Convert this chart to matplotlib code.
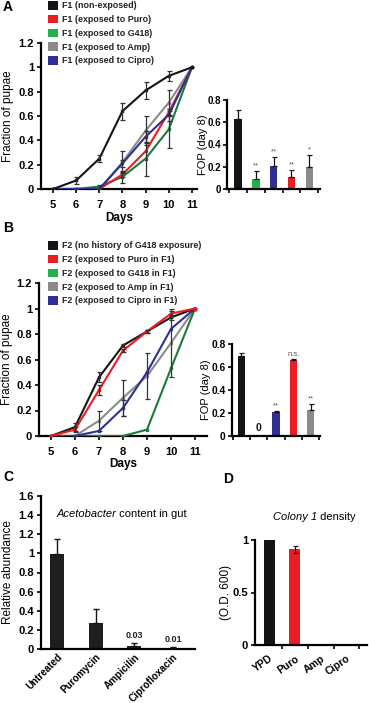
import matplotlib
matplotlib.use("Agg")
import matplotlib.pyplot as plt
import numpy as np
from matplotlib.patches import Patch

plt.rcParams['font.family'] = ['Liberation Sans', 'DejaVu Sans']
plt.rcParams['axes.linewidth'] = 1.6

# ---------------- data ----------------
days = [5, 6, 7, 8, 9, 10, 11]

A_labels = ["F1 (non-exposed)", "F1 (exposed to Puro)", "F1 (exposed to G418)",
            "F1 (exposed to Amp)", "F1 (exposed to Cipro)"]
A_black = [0, 0.07, 0.25, 0.64, 0.81, 0.93, 1.0]
A_black_err = [0, 0.03, 0.03, 0.07, 0.07, 0.04, 0]
A_red = [0, 0, 0, 0.12, 0.31, 0.63, 1.0]
A_red_err = [0, 0, 0, 0.02, 0, 0.03, 0]
A_green = [0, 0, 0.02, 0.10, 0.25, 0.49, 1.0]
A_green_err = [0, 0, 0.01, 0.05, 0.14, 0.15, 0]
A_gray = [0, 0, 0, 0.22, 0.48, 0.71, 1.0]
A_gray_err = [0, 0, 0, 0.09, 0.12, 0.10, 0]
A_blue = [0, 0, 0, 0.21, 0.43, 0.61, 1.0]
A_blue_err = [0, 0, 0, 0.03, 0.05, 0.05, 0]

A_fop = [0.63, 0.09, 0.21, 0.11, 0.20]
A_fop_err = [0.08, 0.07, 0.08, 0.06, 0.11]
A_fop_marks = ["", "**", "**", "**", "*"]

B_labels = ["F2 (no history of G418 exposure)", "F2 (exposed to Puro in F1)",
            "F2 (exposed to G418 in F1)", "F2 (exposed to Amp in F1)",
            "F2 (exposed to Cipro in F1)"]
B_black = [0, 0.07, 0.46, 0.71, 0.82, 0.93, 1.0]
B_black_err = [0, 0.03, 0.04, 0.01, 0.01, 0.02, 0]
B_red = [0, 0.05, 0.36, 0.67, 0.82, 0.96, 1.0]
B_red_err = [0, 0.02, 0.04, 0.01, 0.01, 0.02, 0]
B_green = [0, 0, 0, 0, 0.05, 0.53, 1.0]
B_green_err = [0, 0, 0, 0, 0, 0, 0]
B_gray = [0, 0, 0.12, 0.30, 0.47, 0.73, 1.0]
B_gray_err = [0, 0, 0.08, 0.14, 0.18, 0.27, 0]
B_blue = [0, 0, 0.04, 0.22, 0.50, 0.84, 1.0]
B_blue_err = [0, 0, 0, 0.06, 0, 0, 0]

B_fop = [0.70, 0.0, 0.21, 0.66, 0.23]
B_fop_err = [0.02, 0.0, 0.01, 0.01, 0.05]
B_fop_marks = ["", "0", "**", "n.s.", "**"]

C_cats = ["Untreated", "Puromycin", "Ampicilin", "Ciprofloxacin"]
C_vals = [0.99, 0.27, 0.03, 0.01]
C_err = [0.16, 0.15, 0.03, 0.01]
C_notes = ["", "", "0.03", "0.01"]

D_cats = ["YPD", "Puro", "Amp", "Cipro"]
D_vals = [1.0, 0.91, 0.0, 0.0]
D_err = [0.003, 0.03, 0.0, 0.0]

# ---------------- style ----------------
BLACK = '#141414'
RED = '#ec1c24'
GREEN = '#23b14d'
GREEN_LINE = '#1c7a38'
GRAY = '#8b8b8b'
BLUE = '#2e3192'
FOP_COLORS = [BLACK, GREEN, BLUE, RED, GRAY]
LEG_COLORS = [BLACK, RED, GREEN, GRAY, BLUE]

W, H = 369, 703
fig = plt.figure(figsize=(W / 100, H / 100), dpi=100)


def axp(l, t, r, b):
    return fig.add_axes([l / W, 1 - b / H, (r - l) / W, (b - t) / H])


def ylab_at(ax, text, px, l, r, size=8.5, weight='normal'):
    # px: right edge of the rotated label, in figure pixels
    ax.set_ylabel(text, fontsize=size, fontweight=weight)
    ax.yaxis.set_label_coords((px - l) / (r - l), 0.5)


def style(ax, size=8):
    for s in ['top', 'right']:
        ax.spines[s].set_visible(False)
    ax.tick_params(direction='out', length=3, width=1.2, pad=2,
                   labelsize=size)
    for lab in ax.get_xticklabels() + ax.get_yticklabels():
        lab.set_fontweight('bold')


def numfmt(v):
    return "0" if v == 0 else ("1" if v == 1 else f"{v:.1f}")


def line_panel(ax, series, xl, xr):
    for vals, errs, col in series:
        ax.plot(days, vals, color=col, lw=1.5, marker='s', ms=2,
                mfc=col, mec=col, zorder=3)
        idx = [i for i, e in enumerate(errs) if e > 0]
        if idx:
            ax.errorbar([days[i] for i in idx], [vals[i] for i in idx],
                        yerr=[errs[i] for i in idx], fmt='none',
                        ecolor='#333333', elinewidth=0.9, capsize=1.8,
                        capthick=0.9, zorder=4)
    ax.set_xlim(xl, xr)
    ax.set_ylim(0, 1.2)
    ax.set_xticks(days)
    yt = [0, 0.2, 0.4, 0.6, 0.8, 1.0, 1.2]
    ax.set_yticks(yt)
    ax.set_yticklabels([numfmt(v) for v in yt])
    ax.set_xticklabels([str(d) for d in days])
    style(ax)
    ax.tick_params(axis='x', labelsize=8, pad=5)
    ax.set_xlabel("Days", fontsize=8.5, fontweight='bold', labelpad=1)


def fop_panel(ax, vals, errs, marks, tsize):
    x = np.arange(len(vals))
    ax.bar(x, vals, width=0.42, color=FOP_COLORS, zorder=2)
    lo = [0] * len(vals)
    ax.errorbar(x, vals, yerr=[lo, errs], fmt='none', ecolor=BLACK,
                elinewidth=0.9, capsize=1.8, capthick=0.9, zorder=3)
    for xi, v, e, m in zip(x, vals, errs, marks):
        if m == "0":
            ax.text(xi, 0.03, m, ha='center', va='bottom', fontsize=7.5,
                    fontweight='bold', color=BLACK)
        elif m:
            ax.text(xi, v + e + 0.012, m, ha='center', va='bottom',
                    fontsize=5.5, color='#555555')
    ax.set_xlim(-0.62, 4.6)
    ax.set_ylim(0, 0.8)
    ax.set_xticks(np.arange(-0.5, 5, 1.0))
    ax.set_xticklabels([])
    yt = [0, 0.2, 0.4, 0.6, 0.8]
    ax.set_yticks(yt)
    ax.set_yticklabels([numfmt(v) for v in yt])
    style(ax, tsize)
    ax.tick_params(axis='y', pad=1.5)


LEG_KW = dict(loc='upper left', frameon=False,
              prop={'size': 6.4, 'weight': 'bold'}, handlelength=1.12,
              handleheight=1.12, handletextpad=0.45, labelspacing=0.5,
              borderpad=0, borderaxespad=0, labelcolor='#222222')

# ---------------- Panel A ----------------
axA = axp(41, 43, 197, 189)
line_panel(axA, [(A_gray, A_gray_err, GRAY), (A_green, A_green_err, GREEN_LINE),
                 (A_red, A_red_err, RED), (A_blue, A_blue_err, BLUE),
                 (A_black, A_black_err, BLACK)], 4.48, 11.22)
ylab_at(axA, "Fraction of pupae", 14, 41, 197)
handlesA = [Patch(facecolor=c, edgecolor='none') for c in LEG_COLORS]
fig.legend(handlesA, A_labels, bbox_to_anchor=(48 / W, 1 - 1 / H), **LEG_KW)
axAb = axp(227, 100, 320, 189)
fop_panel(axAb, A_fop, A_fop_err, A_fop_marks, 7)
ylab_at(axAb, "FOP (day 8)", 208, 227, 320, size=8)

# ---------------- Panel B ----------------
axB = axp(39, 283, 207, 436)
line_panel(axB, [(B_gray, B_gray_err, GRAY), (B_green, B_green_err, GREEN_LINE),
                 (B_blue, B_blue_err, BLUE), (B_black, B_black_err, BLACK),
                 (B_red, B_red_err, RED)], 4.5, 11.5)
ylab_at(axB, "Fraction of pupae", 13, 39, 207)
handlesB = [Patch(facecolor=c, edgecolor='none') for c in LEG_COLORS]
fig.legend(handlesB, B_labels, bbox_to_anchor=(48 / W, 1 - 241 / H), **LEG_KW)
axBb = axp(232, 344, 320, 436)
fop_panel(axBb, B_fop, B_fop_err, B_fop_marks, 7.4)
axBb.set_xlim(-0.55, 4.55)
ylab_at(axBb, "FOP (day 8)", 211, 232, 320, size=8)

# ---------------- Panel C ----------------
axC = axp(41, 496, 195, 649)
xc = np.arange(len(C_cats))
axC.bar(xc, C_vals, width=0.36, color='#1e1e1e', zorder=2)
axC.errorbar(xc, C_vals, yerr=[[0] * len(C_vals), C_err], fmt='none',
             ecolor=BLACK, elinewidth=1.0, capsize=2.2, capthick=1.0, zorder=3)
for xi, v, e, n in zip(xc, C_vals, C_err, C_notes):
    if n:
        axC.text(xi, v + e + 0.03, n, ha='center', va='bottom', fontsize=6.5,
                 fontweight='bold', color='#222222')
axC.set_xlim(-0.41, 3.57)
axC.set_ylim(0, 1.6)
axC.set_xticks(xc)
axC.set_xticklabels(C_cats, rotation=45, ha='right', rotation_mode='anchor')
yt = [0, 0.2, 0.4, 0.6, 0.8, 1.0, 1.2, 1.4, 1.6]
axC.set_yticks(yt)
axC.set_yticklabels([numfmt(v) for v in yt])
style(axC)
axC.tick_params(axis='x', length=0, pad=2, labelsize=7.1)
ylab_at(axC, "Relative abundance", 14, 41, 195)
tC = axC.text(0.10, 0.885, "Acetobacter", transform=axC.transAxes,
              fontsize=8, style='italic', ha='left', va='center')
axC.annotate(" content in gut", xy=(1, 0), xycoords=tC, fontsize=8,
             ha='left', va='bottom')

# ---------------- Panel D ----------------
axD = axp(255, 540, 367, 645)
xd = np.arange(len(D_cats))
axD.bar(xd, D_vals, width=0.43, color=[BLACK, RED, BLACK, BLACK], zorder=2)
axD.errorbar(xd[:2], D_vals[:2], yerr=[[0, 0.03], D_err[:2]], fmt='none',
             ecolor=BLACK, elinewidth=0.9, capsize=1.8, capthick=0.9, zorder=3)
axD.set_xlim(-0.55, 3.8)
axD.set_ylim(0, 1.0)
axD.set_xticks(xd)
axD.set_xticklabels(D_cats, rotation=35, ha='right', rotation_mode='anchor')
axD.set_xticks(np.arange(0.5, 4, 1.0), minor=True)
axD.set_yticks([0, 0.5, 1.0])
axD.set_yticklabels(["0", "0.5", "1"])
style(axD)
axD.tick_params(axis='x', which='major', length=0, pad=6, labelsize=7.5)
axD.tick_params(axis='x', which='minor', direction='out', length=3, width=1.2)
ylab_at(axD, "(O.D. 600)", 232, 255, 367)
tD = axD.text(0.16, 1.22, "Colony 1", transform=axD.transAxes, fontsize=8,
              style='italic', ha='left', va='center')
axD.annotate(" density", xy=(1, 0), xycoords=tD, fontsize=8,
             ha='left', va='bottom')

# ---------------- panel letters ----------------
for lab, x, y in [("A", 3, 7), ("B", 3, 228), ("C", 3, 477), ("D", 223, 479)]:
    fig.text(x / W, 1 - y / H, lab, fontsize=10, fontweight='bold',
             ha='left', va='center')

fig.savefig("out.png", dpi=100)
